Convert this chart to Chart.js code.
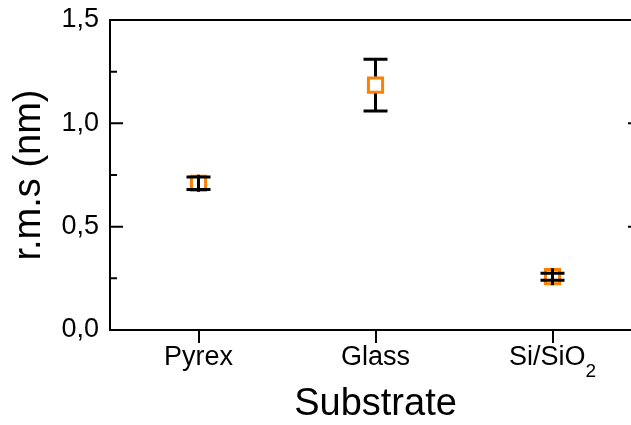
<!DOCTYPE html>
<html>
<head>
<meta charset="utf-8">
<script src="https://cdn.jsdelivr.net/npm/chart.js@4.4.1/dist/chart.umd.min.js"></script>
<style>
  html, body { margin: 0; padding: 0; background: #fff; }
  #wrap { width: 631px; height: 425px; overflow: hidden; }
</style>
</head>
<body>
<div id="wrap"><canvas id="c" width="660" height="425"></canvas></div>
<script>
const substrates = ['Pyrex', 'Glass', 'Si/SiO\u2082'];
const rmsValues = [0.71, 1.185, 0.258];
const rmsErrors = [0.03, 0.125, 0.017];
const yMajorTicks = [0, 0.5, 1.0, 1.5];
const yMinorTicks = [0.25, 0.75, 1.25];

const FONT = 'Liberation Sans, Arial, sans-serif';

// error bars: vertical line + caps, from the data arrays through the y scale
const errorBars = {
  id: 'errorBars',
  afterDatasetsDraw(chart) {
    const ctx = chart.ctx;
    const x = chart.scales.x, y = chart.scales.y;
    const half = 8.5;
    ctx.save();
    ctx.strokeStyle = '#000';
    ctx.lineWidth = 3;
    rmsValues.forEach((v, i) => {
      const px = x.getPixelForValue(i);
      const py = y.getPixelForValue(v);
      const top = y.getPixelForValue(v + rmsErrors[i]);
      const bot = y.getPixelForValue(v - rmsErrors[i]);
      ctx.beginPath();
      if (top < py - half) {
        ctx.moveTo(px, top); ctx.lineTo(px, py - half);
        ctx.moveTo(px, py + half); ctx.lineTo(px, bot);
      } else {
        ctx.moveTo(px, py - half); ctx.lineTo(px, py + half);
      }
      ctx.moveTo(px - 12, top); ctx.lineTo(px + 12, top);
      ctx.moveTo(px - 12, bot); ctx.lineTo(px + 12, bot);
      ctx.stroke();
    });
    ctx.restore();
  }
};

// top/right spines, inward y ticks on both sides, category labels with subscripts
const frame = {
  id: 'frame',
  afterDraw(chart) {
    const ctx = chart.ctx;
    const a = chart.chartArea;
    const x = chart.scales.x, y = chart.scales.y;
    ctx.save();
    ctx.strokeStyle = '#000';
    ctx.lineWidth = 2;
    ctx.beginPath();
    ctx.moveTo(a.left, a.top); ctx.lineTo(a.right, a.top); ctx.lineTo(a.right, a.bottom);
    yMajorTicks.forEach(t => {
      const p = y.getPixelForValue(t);
      ctx.moveTo(a.left, p); ctx.lineTo(a.left + 13, p);
      ctx.moveTo(a.right, p); ctx.lineTo(a.right - 13, p);
    });
    yMinorTicks.forEach(t => {
      const p = y.getPixelForValue(t);
      ctx.moveTo(a.left, p); ctx.lineTo(a.left + 7, p);
      ctx.moveTo(a.right, p); ctx.lineTo(a.right - 7, p);
    });
    ctx.stroke();

    ctx.fillStyle = '#000';
    ctx.textBaseline = 'alphabetic';
    ctx.textAlign = 'left';
    const base = a.bottom + 35;
    substrates.forEach((lab, i) => {
      const parts = lab.split(/([\u2080-\u2089]+)/).filter(s => s.length);
      const pieces = parts.map(s => {
        const sub = /[\u2080-\u2089]/.test(s);
        const txt = sub ? s.replace(/[\u2080-\u2089]/g, c => String(c.charCodeAt(0) - 0x2080)) : s;
        const font = (sub ? 19 : 27) + 'px ' + FONT;
        ctx.font = font;
        return { txt, font, sub, w: ctx.measureText(txt).width };
      });
      const total = pieces.reduce((s, p) => s + p.w, 0);
      let cx = x.getPixelForValue(i) - total / 2;
      pieces.forEach(p => {
        ctx.font = p.font;
        ctx.fillText(p.txt, cx, p.sub ? base + 12 : base);
        cx += p.w;
      });
    });
    ctx.restore();
  }
};

new Chart(document.getElementById('c'), {
  type: 'line',
  data: {
    labels: substrates,
    datasets: [{
      data: rmsValues,
      showLine: false,
      pointStyle: 'rect',
      pointRadius: 10,
      pointHoverRadius: 10,
      pointBorderWidth: 3,
      pointBorderColor: '#FF7F00',
      pointBackgroundColor: 'rgba(255,255,255,0)'
    }]
  },
  options: {
    responsive: false,
    devicePixelRatio: 1,
    animation: false,
    layout: { padding: { top: 20, right: 19, left: 0, bottom: 0 } },
    plugins: { legend: { display: false }, tooltip: { enabled: false } },
    scales: {
      x: {
        type: 'category',
        offset: true,
        grid: { drawOnChartArea: false, drawTicks: true, tickLength: 13, color: '#000', lineWidth: 2, offset: false },
        border: { display: true, color: '#000', width: 2 },
        ticks: { display: false },
        title: { display: true, text: 'Substrate', color: '#000', font: { family: FONT, size: 38, lineHeight: 1.1 }, padding: { top: 0, bottom: 0 } },
        afterFit(scale) { scale.height = 95; scale.paddingLeft = 0; scale.paddingRight = 0; }
      },
      y: {
        min: 0,
        max: 1.5,
        afterBuildTicks(scale) { scale.ticks = yMajorTicks.map(v => ({ value: v })); },
        grid: { drawOnChartArea: false, drawTicks: false },
        border: { display: true, color: '#000', width: 2 },
        ticks: {
          color: '#000',
          font: { family: FONT, size: 27 },
          padding: 11,
          callback: v => v.toFixed(1).replace('.', ',')
        },
        title: { display: true, text: 'r.m.s (nm)', color: '#000', font: { family: FONT, size: 38 }, padding: { top: 7, bottom: 0 } },
        afterFit(scale) { scale.width = 110; scale.paddingTop = 0; scale.paddingBottom = 0; }
      }
    }
  },
  plugins: [errorBars, frame]
});
</script>
</body>
</html>
